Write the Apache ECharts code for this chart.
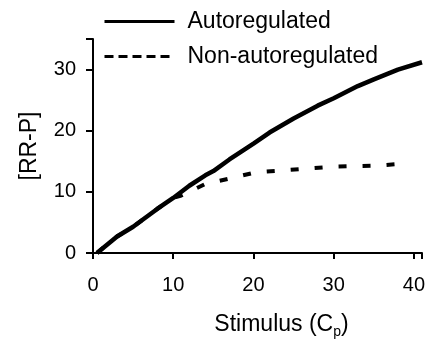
<!DOCTYPE html>
<html>
<head>
<meta charset="utf-8">
<script src="https://cdn.jsdelivr.net/npm/echarts@6/dist/echarts.min.js"></script>
<style>
  html, body { margin: 0; padding: 0; background: #fff; }
  #chart { width: 433px; height: 341px; }
</style>
</head>
<body>
<div id="chart"></div>
<script>
// data: [stimulus, RR-P]
var autoData = [
  [0.5, 0], [3, 2.7], [5, 4.3], [8, 7.2], [10, 9.0], [12, 11.0], [14, 12.7],
  [15, 13.4], [17, 15.3], [20, 17.9], [22, 19.7], [25, 22.0], [28, 24.1],
  [30, 25.3], [33, 27.3], [35, 28.4], [38, 30.0], [41, 31.2]
];
var nonAutoData = [
  [0.5, 0], [3, 2.7], [5, 4.3], [8, 7.2], [10, 9.0], [11, 9.4], [14, 11.3],
  [17.4, 12.3], [20.3, 13.2], [23.5, 13.5], [26.6, 13.8], [29.7, 14.1],
  [32.4, 14.2], [35.5, 14.3], [38.6, 14.6]
];
var xTicks = [0, 10, 20, 30, 40];
var yTicks = [0, 10, 20, 30];

var fontFam = '"Liberation Sans", Arial, sans-serif';

var dom = document.getElementById('chart');
var myChart = echarts.init(dom, null, { renderer: 'canvas' });

var option = {
  animation: false,
  backgroundColor: '#fff',
  grid: { left: 93, right: 11, top: 39, bottom: 88, containLabel: false, outerBoundsMode: 'none' },
  legend: {
    orient: 'vertical',
    left: 103,
    top: 10,
    padding: 0,
    itemWidth: 70,
    itemHeight: 14,
    itemGap: 12,
    textStyle: { fontFamily: fontFam, fontSize: 23, color: '#000', padding: [0, 0, 0, 8] },
    data: [
      {
        name: 'Autoregulated',
        itemStyle: { opacity: 0 },
        lineStyle: { color: '#000', width: 3, type: 'solid' }
      },
      {
        name: 'Non-autoregulated',
        itemStyle: { opacity: 0 },
        lineStyle: { color: '#000', width: 3, type: [9, 5] }
      }
    ]
  },
  xAxis: {
    type: 'value', min: 0, max: 41, interval: 10,
    splitLine: { show: false },
    axisLine: { lineStyle: { color: '#000', width: 2 } },
    axisTick: { inside: false, length: 6, lineStyle: { color: '#000', width: 2 } },
    axisLabel: {
      fontFamily: fontFam, fontSize: 20, color: '#000', margin: 22,
      formatter: function (v) { return xTicks.indexOf(v) >= 0 ? String(v) : ''; }
    },
    name: '{a|Stimulus (C}{b|p}{a|)}',
    nameLocation: 'middle',
    nameGap: 58,
    nameTextStyle: {
      padding: [0, 0, 0, 48],
      rich: {
        a: { fontFamily: fontFam, fontSize: 23, color: '#000' },
        b: { fontFamily: fontFam, fontSize: 14, color: '#000', verticalAlign: 'bottom', padding: [14, 0, 0, 0] }
      }
    }
  },
  yAxis: {
    type: 'value', min: 0, max: 35, interval: 10,
    splitLine: { show: false },
    axisLine: { lineStyle: { color: '#000', width: 2 } },
    axisTick: { inside: false, length: 7, lineStyle: { color: '#000', width: 2 } },
    axisLabel: {
      fontFamily: fontFam, fontSize: 20, color: '#000', margin: 17,
      formatter: function (v) { return yTicks.indexOf(v) >= 0 ? String(v) : ''; }
    },
    name: '[RR-P]',
    nameLocation: 'middle',
    nameGap: 52,
    nameRotate: 90,
    nameTextStyle: { fontFamily: fontFam, fontSize: 23, color: '#000' }
  },
  series: [
    {
      name: 'Non-autoregulated',
      type: 'line',
      data: nonAutoData,
      showSymbol: false,
      symbol: 'none',
      lineStyle: { color: '#000', width: 4, type: [8, 16] },
      itemStyle: { color: '#000' }
    },
    {
      name: 'Autoregulated',
      type: 'line',
      data: autoData,
      showSymbol: false,
      symbol: 'none',
      lineStyle: { color: '#000', width: 4.5 },
      itemStyle: { color: '#000' }
    }
  ]
};

if (option && typeof option === 'object') {
  myChart.setOption(option);
}

window.addEventListener('resize', myChart.resize);
</script>
</body>
</html>
